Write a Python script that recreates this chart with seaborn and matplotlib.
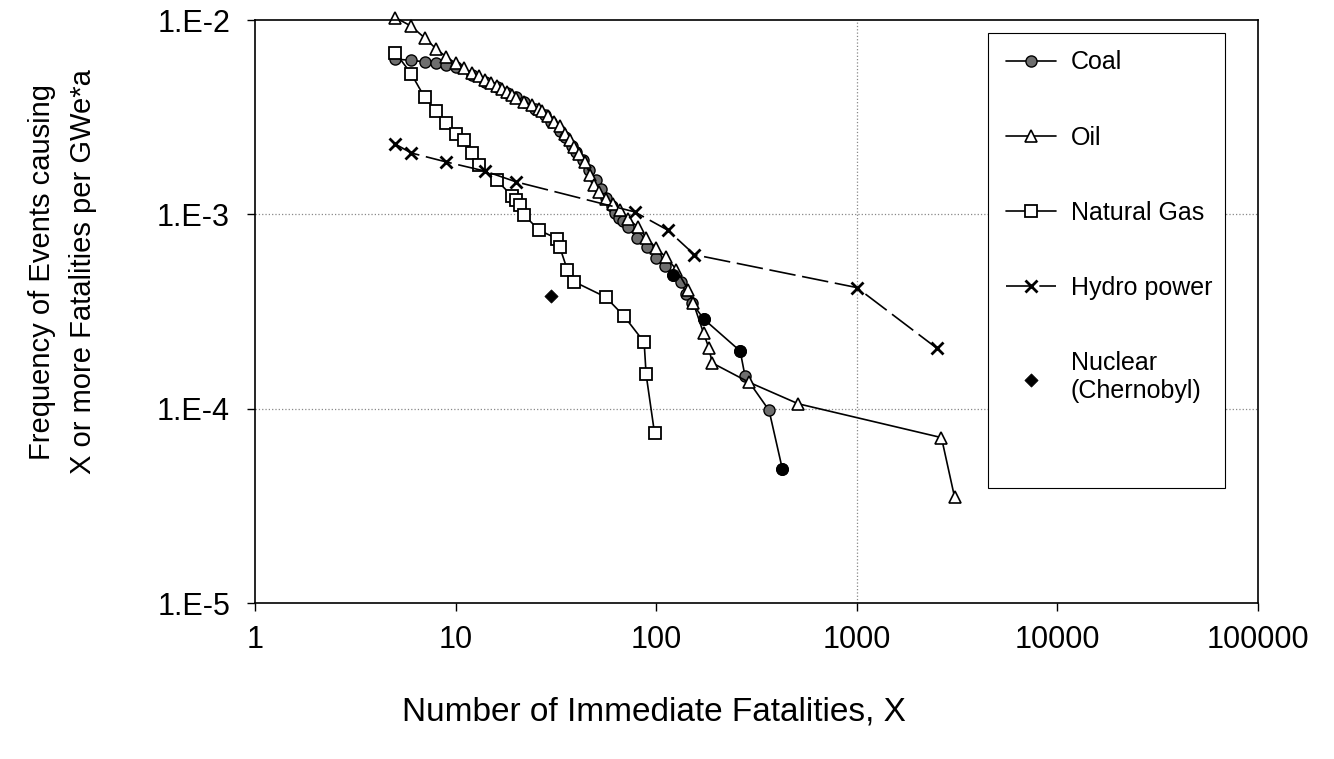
import numpy as np
import pandas as pd
import matplotlib
matplotlib.use("Agg")
import matplotlib.pyplot as plt
import matplotlib.patches as mpatches
import seaborn as sns

# Data (x = fatalities, y = frequency per GWe*a)
coal_x = [5, 6, 7, 8, 9, 10, 12, 14, 16, 18, 20, 22, 25, 28, 30, 33, 35, 38, 40, 43,
          46, 50, 53, 56, 60, 62, 65, 68, 72, 80, 90, 100, 110, 121, 133, 141, 151,
          172, 262, 277, 365, 425]
coal_y = [6.3e-3, 6.2e-3, 6.1e-3, 6.0e-3, 5.9e-3, 5.7e-3, 5.2e-3, 4.8e-3, 4.5e-3, 4.2e-3,
          4.0e-3, 3.8e-3, 3.5e-3, 3.25e-3, 3.0e-3, 2.7e-3, 2.5e-3, 2.25e-3, 2.1e-3, 1.9e-3,
          1.7e-3, 1.5e-3, 1.35e-3, 1.22e-3, 1.1e-3, 1.02e-3, 9.6e-4, 9.2e-4, 8.6e-4, 7.6e-4,
          6.8e-4, 5.95e-4, 5.4e-4, 4.9e-4, 4.5e-4, 3.9e-4, 3.5e-4,
          2.9e-4, 1.98e-4, 1.47e-4, 9.8e-5, 4.9e-5]
coal_solid = [False] * 33 + [True, False, False, False, True, True, False, False, True]

oil_x = [5, 6, 7, 8, 9, 10, 11, 12, 13, 14, 15, 16, 17, 18, 19, 20, 22, 24, 26, 27, 29,
         31, 33, 35, 37, 39, 41, 44, 47, 49, 52, 56, 61, 66, 72, 81, 89, 100, 112, 126,
         144, 153, 172, 183, 190, 289, 510, 2640, 3070]
oil_y = [1.03e-2, 9.3e-3, 8.1e-3, 7.1e-3, 6.45e-3, 6.0e-3, 5.67e-3, 5.33e-3, 5.15e-3, 4.9e-3,
         4.75e-3, 4.6e-3, 4.4e-3, 4.25e-3, 4.1e-3, 3.95e-3, 3.8e-3, 3.65e-3, 3.5e-3, 3.4e-3,
         3.2e-3, 3.0e-3, 2.85e-3, 2.6e-3, 2.4e-3, 2.22e-3, 2.05e-3, 1.85e-3, 1.6e-3, 1.42e-3,
         1.3e-3, 1.2e-3, 1.13e-3, 1.05e-3, 9.5e-4, 8.6e-4, 7.6e-4, 6.7e-4, 6.0e-4, 5.2e-4,
         4.1e-4, 3.5e-4, 2.45e-4, 2.05e-4, 1.72e-4, 1.37e-4, 1.06e-4, 7.1e-5, 3.5e-5]

gas_x = [5, 6, 7, 8, 9, 10, 11, 12, 13, 16, 19, 20, 21, 22, 26, 32, 33, 36, 39, 56, 69,
         87, 89, 98]
gas_y = [6.8e-3, 5.3e-3, 4.0e-3, 3.4e-3, 2.95e-3, 2.6e-3, 2.4e-3, 2.07e-3, 1.8e-3, 1.5e-3,
         1.25e-3, 1.19e-3, 1.12e-3, 9.9e-4, 8.3e-4, 7.5e-4, 6.8e-4, 5.2e-4, 4.5e-4, 3.75e-4,
         3.0e-4, 2.2e-4, 1.5e-4, 7.5e-5]

hydro_x = [5, 6, 9, 14, 20, 78, 114, 155, 1000, 2500]
hydro_y = [2.3e-3, 2.07e-3, 1.86e-3, 1.67e-3, 1.47e-3, 1.03e-3, 8.3e-4, 6.2e-4, 4.2e-4, 2.05e-4]

nuclear_x = [30]
nuclear_y = [3.8e-4]

x_ticks = [1, 10, 100, 1000, 10000, 100000]
x_ticklabels = ["1", "10", "100", "1000", "10000", "100000"]
y_ticks = [1e-5, 1e-4, 1e-3, 1e-2]
y_ticklabels = ["1.E-5", "1.E-4", "1.E-3", "1.E-2"]

sns.set_theme(style="white")
plt.rcParams['font.family'] = ['Liberation Sans', 'DejaVu Sans']
plt.rcParams.update({"text.color": "black", "axes.labelcolor": "black",
                     "xtick.color": "black", "ytick.color": "black"})

fig = plt.figure(figsize=(13.34, 7.59), dpi=100)
ax = fig.add_axes([0.1912, 0.2055, 0.7519, 0.7681])

ax.set_xscale("log")
ax.set_yscale("log")
ax.set_xlim(1, 1e5)
ax.set_ylim(1e-5, 1e-2)

# gridlines (only a few visible in the original)
for yv in [1e-3, 1e-4]:
    ax.axhline(yv, color="#888888", lw=0.9, ls=":", zorder=0)
ax.axvline(1000, color="#888888", lw=0.9, ls=":", zorder=0)

line_kw = dict(color="black", lw=1.2, estimator=None, sort=False, ax=ax)

sns.lineplot(x=coal_x, y=coal_y, marker="o", markersize=8, markerfacecolor="#6e6e6e",
             markeredgecolor="black", markeredgewidth=1.0, label="Coal", **line_kw)
cx = [x for x, s in zip(coal_x, coal_solid) if s]
cy = [y for y, s in zip(coal_y, coal_solid) if s]
sns.scatterplot(x=cx, y=cy, marker="o", s=75, color="black", edgecolor="black", ax=ax,
                zorder=5, legend=False)

sns.lineplot(x=oil_x, y=oil_y, marker="^", markersize=8, markerfacecolor="white",
             markeredgecolor="black", markeredgewidth=1.2, label="Oil", clip_on=False,
             **line_kw)
sns.lineplot(x=gas_x, y=gas_y, marker="s", markersize=8, markerfacecolor="white",
             markeredgecolor="black", markeredgewidth=1.3, label="Natural Gas", **line_kw)
sns.lineplot(x=hydro_x, y=hydro_y, marker="x", markersize=8, markeredgewidth=2.0,
             markeredgecolor="black", linestyle=(0, (16, 4)), label="Hydro power",
             **line_kw)
sns.scatterplot(x=nuclear_x, y=nuclear_y, marker="D", s=45, color="black",
                edgecolor="black", ax=ax, label="Nuclear\n(Chernobyl)", zorder=5)

ax.set_xticks(x_ticks)
ax.set_xticklabels(x_ticklabels)
ax.set_yticks(y_ticks)
ax.set_yticklabels(y_ticklabels)
ax.minorticks_off()
ax.tick_params(axis="both", which="major", labelsize=22, direction="out", length=6,
               width=1, color="black", left=True, bottom=True, pad=12)
ax.tick_params(axis="x", pad=10)

for sp in ax.spines.values():
    sp.set_color("black")
    sp.set_linewidth(1.2)

ax.set_xlabel("Number of Immediate Fatalities, X", fontsize=24, va="center")
ax.xaxis.set_label_coords(0.398, -0.187)
ax.set_ylabel("Frequency of Events causing\nX or more Fatalities per GWe*a",
              fontsize=21, va="center", linespacing=1.55)
ax.yaxis.set_label_coords(-0.192, 0.568)

# legend frame drawn separately: the original box has extra room at the bottom
ax.add_patch(mpatches.Rectangle((0.731, 0.197), 0.236, 0.781, transform=ax.transAxes,
                                facecolor="white", edgecolor="black", lw=0.8, zorder=6))
leg = ax.legend(loc="upper left", bbox_to_anchor=(0.731, 0.978), borderaxespad=0,
                fontsize=18, frameon=False, labelspacing=2.05, handlelength=2.0,
                handletextpad=0.6, borderpad=0.7)
leg.set_zorder(7)

fig.savefig("out.png", dpi=100)
